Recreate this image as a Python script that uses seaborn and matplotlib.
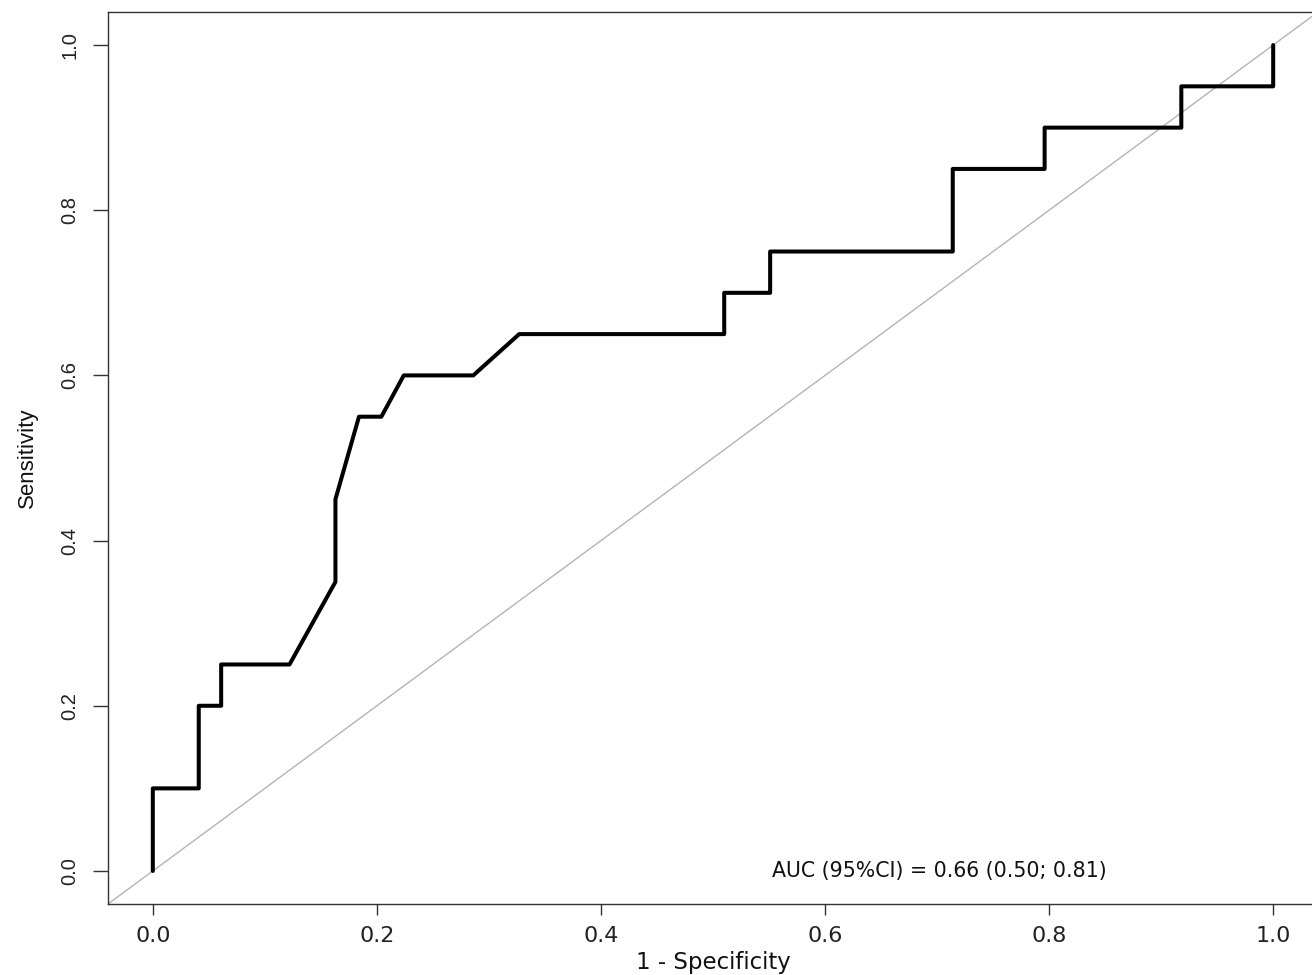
import matplotlib
matplotlib.use('Agg')
import matplotlib.pyplot as plt
import seaborn as sns
import pandas as pd

# ROC curve points (1 - specificity, sensitivity)
fpr = [0.0, 0.0, 0.041, 0.041, 0.061, 0.061, 0.122, 0.163, 0.163, 0.184,
       0.204, 0.224, 0.286, 0.327, 0.510, 0.510, 0.551, 0.551, 0.714, 0.714,
       0.796, 0.796, 0.918, 0.918, 1.0, 1.0]
tpr = [0.0, 0.10, 0.10, 0.20, 0.20, 0.25, 0.25, 0.35, 0.45, 0.55,
       0.55, 0.60, 0.60, 0.65, 0.65, 0.70, 0.70, 0.75, 0.75, 0.85,
       0.85, 0.90, 0.90, 0.95, 0.95, 1.0]
ticks = [0.0, 0.2, 0.4, 0.6, 0.8, 1.0]
auc_label = 'AUC (95%CI) = 0.66 (0.50; 0.81)'

sns.set_theme(style='white')
plt.rcParams['font.family'] = ['DejaVu Sans']

roc = pd.DataFrame({'fpr': fpr, 'tpr': tpr})

fig = plt.figure(figsize=(13.12, 9.75), dpi=100)
# axes box runs a little past the right edge, like the cropped original
ax = fig.add_axes([108 / 1312, 71 / 975, 1210 / 1312, 892 / 975])

ax.axline((0, 0), (1, 1), color='#b4b4b4', linewidth=1.0, zorder=1)
sns.lineplot(data=roc, x='fpr', y='tpr', sort=False, estimator=None,
             color='black', linewidth=2.9, ax=ax, zorder=3)

ax.set_xlim(-0.04, 1.04)
ax.set_ylim(-0.04, 1.04)
ax.set_xticks(ticks)
ax.set_yticks(ticks)
ax.set_xticklabels([f'{t:.1f}' for t in ticks], fontsize=16, color='#222222')
ax.set_yticklabels([f'{t:.1f}' for t in ticks], fontsize=14.5, color='#222222',
                   family=['Liberation Sans'],
                   rotation=90, va='center', ha='right')
ax.tick_params(axis='x', direction='out', length=8, width=1, color='#333333',
               pad=8, bottom=True)
ax.tick_params(axis='y', direction='out', length=10.5, width=1, color='#333333',
               pad=10, left=True)

for side in ['left', 'bottom', 'top', 'right']:
    ax.spines[side].set_visible(True)
    ax.spines[side].set_color('#333333')
    ax.spines[side].set_linewidth(1.0)

ax.set_xlabel('1 - Specificity', fontsize=16.5, color='#111111')
ax.xaxis.set_label_coords(0.5, -0.0527)
ax.set_ylabel('Sensitivity', fontsize=16, color='#111111',
              family=['Liberation Sans'])
ax.yaxis.set_label_coords(-0.058, 0.5)

ax.text(0.702, 0.0, auc_label, fontsize=14.8, color='#111111',
        ha='center', va='center')

fig.savefig('out.png', dpi=100, facecolor='white')
